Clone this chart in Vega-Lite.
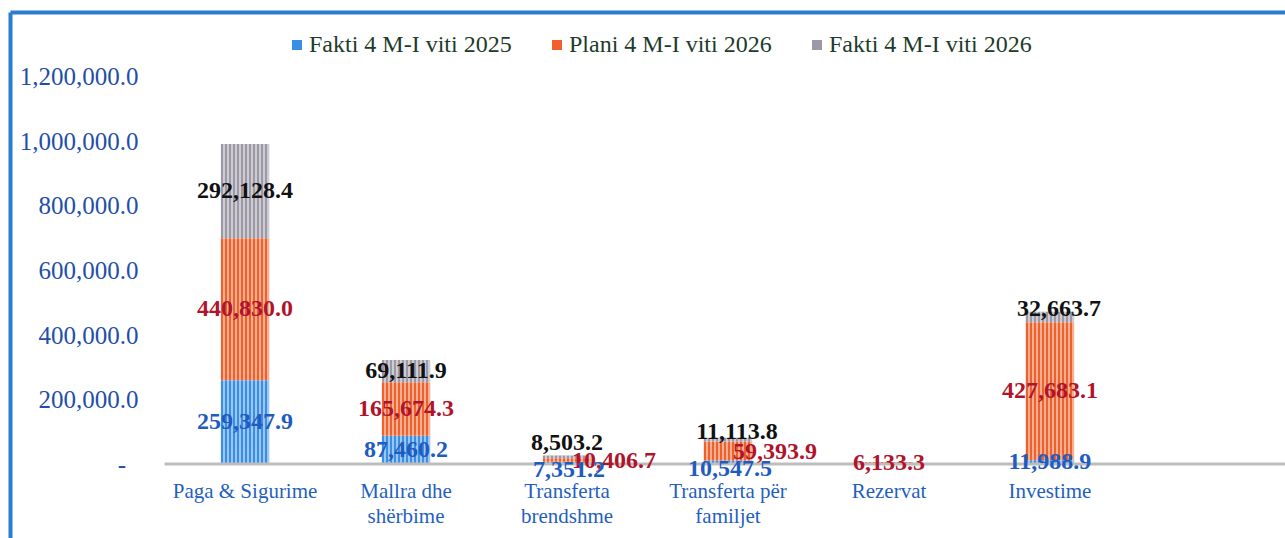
{
  "$schema": "https://vega.github.io/schema/vega-lite/v6.json",
  "autosize": {"type": "none"},
  "width": 1275,
  "height": 526,
  "padding": {"left": 10, "top": 12, "right": 0, "bottom": 0},
  "background": "white",
  "config": {"view": {"stroke": null}, "font": "Liberation Serif"},
  "data": {
    "values": [
      {"cat": "Paga & Sigurime", "s": "Fakti 4 M-I viti 2025", "v": 259347.9},
      {"cat": "Paga & Sigurime", "s": "Plani 4 M-I viti 2026", "v": 440830.0},
      {"cat": "Paga & Sigurime", "s": "Fakti 4 M-I viti 2026", "v": 292128.4},
      {"cat": "Mallra dhe shërbime", "s": "Fakti 4 M-I viti 2025", "v": 87460.2},
      {"cat": "Mallra dhe shërbime", "s": "Plani 4 M-I viti 2026", "v": 165674.3},
      {"cat": "Mallra dhe shërbime", "s": "Fakti 4 M-I viti 2026", "v": 69111.9},
      {"cat": "Transferta brendshme", "s": "Fakti 4 M-I viti 2025", "v": 7351.2},
      {"cat": "Transferta brendshme", "s": "Plani 4 M-I viti 2026", "v": 10406.7},
      {"cat": "Transferta brendshme", "s": "Fakti 4 M-I viti 2026", "v": 8503.2},
      {"cat": "Transferta për familjet", "s": "Fakti 4 M-I viti 2025", "v": 10547.5},
      {"cat": "Transferta për familjet", "s": "Plani 4 M-I viti 2026", "v": 59393.9},
      {"cat": "Transferta për familjet", "s": "Fakti 4 M-I viti 2026", "v": 11113.8},
      {"cat": "Rezervat", "s": "Plani 4 M-I viti 2026", "v": 6133.3},
      {"cat": "Investime", "s": "Fakti 4 M-I viti 2025", "v": 11988.9},
      {"cat": "Investime", "s": "Plani 4 M-I viti 2026", "v": 427683.1},
      {"cat": "Investime", "s": "Fakti 4 M-I viti 2026", "v": 32663.7}
    ]
  },
  "transform": [{"stack": "v", "groupby": ["cat"], "as": ["v0", "v1"]}],
  "layer": [
    {
      "mark": {"type": "bar", "width": {"band": 0.3}},
      "encoding": {
        "x": {
          "field": "cat", "type": "nominal",
          "scale": {"domain": ["Paga & Sigurime", "Mallra dhe shërbime", "Transferta brendshme", "Transferta për familjet", "Rezervat", "Investime"], "paddingInner": 0, "paddingOuter": 0.96},
          "axis": {
            "orient": "bottom", "offset": -60, "domain": false, "ticks": false, "grid": false,
            "labelPadding": 2, "labelAngle": 0, "labelFont": "Liberation Serif", "labelFontSize": 21,
            "labelColor": "#1f5fbf", "labelLineHeight": 25, "labelBaseline": "top", "labelLimit": 0, "title": null,
            "labelExpr": "datum.label == 'Mallra dhe shërbime' ? ['Mallra dhe', 'shërbime'] : datum.label == 'Transferta brendshme' ? ['Transferta', 'brendshme'] : datum.label == 'Transferta për familjet' ? ['Transferta për', 'familjet'] : datum.label"
          }
        },
        "y": {
          "field": "v0", "type": "quantitative",
          "scale": {"domain": [-229457, 1401550], "nice": false, "zero": false},
          "axis": {
            "orient": "left", "offset": -140, "values": [0, 200000, 400000, 600000, 800000, 1000000, 1200000],
            "domain": false, "ticks": false, "grid": false, "labelPadding": 12, "labelOverlap": false, "labelFlush": false,
            "labelFont": "Liberation Serif", "labelFontSize": 25, "labelColor": "#1f4fa8", "title": null,
            "labelExpr": "datum.value == 0 ? '-\u00a0\u00a0\u200b' : format(datum.value, ',.1f')"
          }
        },
        "y2": {"field": "v1"},
        "color": {
          "field": "s", "type": "nominal",
          "scale": {"domain": ["Fakti 4 M-I viti 2025", "Plani 4 M-I viti 2026", "Fakti 4 M-I viti 2026"], "range": ["#3b8ee6", "#f0602a", "#9c98a6"]},
          "legend": {
            "orient": "none", "legendX": 275, "legendY": 21, "direction": "horizontal", "title": null,
            "symbolType": "square", "symbolSize": 100, "symbolStrokeWidth": 0, "labelFont": "Liberation Serif",
            "labelFontSize": 24, "labelColor": "#1d3b2a", "columnPadding": 33, "labelOffset": 0, "labelLimit": 0, "padding": 0
          }
        }
      }
    },
    {
      "mark": {
        "type": "bar", "strokeWidth": 0, "width": {"band": 0.3},
        "fill": {
          "gradient": "linear", "x1": 0, "y1": 0, "x2": 1, "y2": 0,
          "stops": [
            {"offset": 0, "color": "rgba(255,255,255,0)"}, {"offset": 0.0458, "color": "rgba(255,255,255,0)"}, {"offset": 0.0458, "color": "rgba(255,255,255,0.5)"}, {"offset": 0.0833, "color": "rgba(255,255,255,0.5)"},
            {"offset": 0.0833, "color": "rgba(255,255,255,0)"}, {"offset": 0.1292, "color": "rgba(255,255,255,0)"}, {"offset": 0.1292, "color": "rgba(255,255,255,0.5)"}, {"offset": 0.1667, "color": "rgba(255,255,255,0.5)"},
            {"offset": 0.1667, "color": "rgba(255,255,255,0)"}, {"offset": 0.2125, "color": "rgba(255,255,255,0)"}, {"offset": 0.2125, "color": "rgba(255,255,255,0.5)"}, {"offset": 0.25, "color": "rgba(255,255,255,0.5)"},
            {"offset": 0.25, "color": "rgba(255,255,255,0)"}, {"offset": 0.2958, "color": "rgba(255,255,255,0)"}, {"offset": 0.2958, "color": "rgba(255,255,255,0.5)"}, {"offset": 0.3333, "color": "rgba(255,255,255,0.5)"},
            {"offset": 0.3333, "color": "rgba(255,255,255,0)"}, {"offset": 0.3792, "color": "rgba(255,255,255,0)"}, {"offset": 0.3792, "color": "rgba(255,255,255,0.5)"}, {"offset": 0.4167, "color": "rgba(255,255,255,0.5)"},
            {"offset": 0.4167, "color": "rgba(255,255,255,0)"}, {"offset": 0.4625, "color": "rgba(255,255,255,0)"}, {"offset": 0.4625, "color": "rgba(255,255,255,0.5)"}, {"offset": 0.5, "color": "rgba(255,255,255,0.5)"},
            {"offset": 0.5, "color": "rgba(255,255,255,0)"}, {"offset": 0.5458, "color": "rgba(255,255,255,0)"}, {"offset": 0.5458, "color": "rgba(255,255,255,0.5)"}, {"offset": 0.5833, "color": "rgba(255,255,255,0.5)"},
            {"offset": 0.5833, "color": "rgba(255,255,255,0)"}, {"offset": 0.6292, "color": "rgba(255,255,255,0)"}, {"offset": 0.6292, "color": "rgba(255,255,255,0.5)"}, {"offset": 0.6667, "color": "rgba(255,255,255,0.5)"},
            {"offset": 0.6667, "color": "rgba(255,255,255,0)"}, {"offset": 0.7125, "color": "rgba(255,255,255,0)"}, {"offset": 0.7125, "color": "rgba(255,255,255,0.5)"}, {"offset": 0.75, "color": "rgba(255,255,255,0.5)"},
            {"offset": 0.75, "color": "rgba(255,255,255,0)"}, {"offset": 0.7958, "color": "rgba(255,255,255,0)"}, {"offset": 0.7958, "color": "rgba(255,255,255,0.5)"}, {"offset": 0.8333, "color": "rgba(255,255,255,0.5)"},
            {"offset": 0.8333, "color": "rgba(255,255,255,0)"}, {"offset": 0.8792, "color": "rgba(255,255,255,0)"}, {"offset": 0.8792, "color": "rgba(255,255,255,0.5)"}, {"offset": 0.9167, "color": "rgba(255,255,255,0.5)"},
            {"offset": 0.9167, "color": "rgba(255,255,255,0)"}, {"offset": 0.9625, "color": "rgba(255,255,255,0)"}, {"offset": 0.9625, "color": "rgba(255,255,255,0.5)"}, {"offset": 1, "color": "rgba(255,255,255,0.5)"}
          ]
        }
      },
      "encoding": {
        "x": {"field": "cat", "type": "nominal", "scale": {"domain": ["Paga & Sigurime", "Mallra dhe shërbime", "Transferta brendshme", "Transferta për familjet", "Rezervat", "Investime"], "paddingInner": 0, "paddingOuter": 0.96}, "axis": null},
        "y": {"field": "v0", "type": "quantitative", "scale": {"domain": [-229457, 1401550], "nice": false, "zero": false}, "axis": null},
        "y2": {"field": "v1"}
      }
    },
    {
      "transform": [{"filter": "datum.cat == 'Paga & Sigurime' && datum.s == 'Fakti 4 M-I viti 2025'"}],
      "mark": {"type": "rule", "color": "#bdbdbd", "strokeWidth": 3},
      "encoding": {
        "x": {
          "field": "cat", "type": "nominal", "bandPosition": 0,
          "scale": {"domain": ["Paga & Sigurime", "Mallra dhe shërbime", "Transferta brendshme", "Transferta për familjet", "Rezervat", "Investime"], "paddingInner": 0, "paddingOuter": 0.96},
          "axis": {"orient": "top", "domain": true, "domainColor": "#2b7bd3", "domainWidth": 4, "labels": false, "ticks": false, "grid": false, "title": null}
        },
        "x2": {"value": "width"},
        "y": {
          "datum": 0, "type": "quantitative",
          "scale": {"domain": [-229457, 1401550], "nice": false, "zero": false},
          "axis": {"orient": "left", "domain": true, "domainColor": "#2b7bd3", "domainWidth": 4, "labels": false, "ticks": false, "grid": false, "title": null}
        }
      }
    },
    {
      "transform": [
        {"fold": ["v0", "v1"], "as": ["k", "pos"]},
        {"aggregate": [{"op": "mean", "field": "pos", "as": "mid"}, {"op": "max", "field": "v", "as": "v"}], "groupby": ["cat", "s"]}
      ],
      "layer": [
        {
          "transform": [{"filter": "!(datum.cat == 'Transferta brendshme' || datum.cat == 'Transferta për familjet' || (datum.cat == 'Investime' && datum.s == 'Fakti 4 M-I viti 2026'))"}],
          "mark": {"type": "text", "font": "Liberation Serif", "fontWeight": "bold", "fontSize": 24, "baseline": "middle", "align": "center"},
          "encoding": {
            "x": {"field": "cat", "type": "nominal", "scale": {"domain": ["Paga & Sigurime", "Mallra dhe shërbime", "Transferta brendshme", "Transferta për familjet", "Rezervat", "Investime"], "paddingInner": 0, "paddingOuter": 0.96}, "axis": null},
            "y": {"field": "mid", "type": "quantitative", "scale": {"domain": [-229457, 1401550], "nice": false, "zero": false}, "axis": null},
            "text": {"field": "v", "type": "quantitative", "format": ",.1f"},
            "color": {"condition": [{"test": "datum.s == 'Fakti 4 M-I viti 2025'", "value": "#1f5cc0"}, {"test": "datum.s == 'Plani 4 M-I viti 2026'", "value": "#b0142c"}], "value": "#111111"}
          }
        },
        {
          "transform": [{"filter": "datum.cat == 'Transferta brendshme' && datum.s == 'Fakti 4 M-I viti 2026'"}],
          "mark": {"type": "text", "font": "Liberation Serif", "fontWeight": "bold", "fontSize": 24, "baseline": "middle", "align": "center", "dy": -14, "dx": 0},
          "encoding": {
            "x": {"field": "cat", "type": "nominal", "scale": {"domain": ["Paga & Sigurime", "Mallra dhe shërbime", "Transferta brendshme", "Transferta për familjet", "Rezervat", "Investime"], "paddingInner": 0, "paddingOuter": 0.96}, "axis": null},
            "y": {"field": "mid", "type": "quantitative", "scale": {"domain": [-229457, 1401550], "nice": false, "zero": false}, "axis": null},
            "text": {"field": "v", "type": "quantitative", "format": ",.1f"},
            "color": {"value": "#111111"}
          }
        },
        {
          "transform": [{"filter": "(datum.cat == 'Transferta për familjet' || datum.cat == 'Investime') && datum.s == 'Fakti 4 M-I viti 2026'"}],
          "mark": {"type": "text", "font": "Liberation Serif", "fontWeight": "bold", "fontSize": 24, "baseline": "middle", "align": "center", "dy": -8, "dx": 9},
          "encoding": {
            "x": {"field": "cat", "type": "nominal", "scale": {"domain": ["Paga & Sigurime", "Mallra dhe shërbime", "Transferta brendshme", "Transferta për familjet", "Rezervat", "Investime"], "paddingInner": 0, "paddingOuter": 0.96}, "axis": null},
            "y": {"field": "mid", "type": "quantitative", "scale": {"domain": [-229457, 1401550], "nice": false, "zero": false}, "axis": null},
            "text": {"field": "v", "type": "quantitative", "format": ",.1f"},
            "color": {"value": "#111111"}
          }
        },
        {
          "transform": [{"filter": "(datum.cat == 'Transferta brendshme' || datum.cat == 'Transferta për familjet') && datum.s == 'Plani 4 M-I viti 2026'"}],
          "mark": {"type": "text", "font": "Liberation Serif", "fontWeight": "bold", "fontSize": 24, "baseline": "middle", "align": "center", "dy": 1, "dx": 47},
          "encoding": {
            "x": {"field": "cat", "type": "nominal", "scale": {"domain": ["Paga & Sigurime", "Mallra dhe shërbime", "Transferta brendshme", "Transferta për familjet", "Rezervat", "Investime"], "paddingInner": 0, "paddingOuter": 0.96}, "axis": null},
            "y": {"field": "mid", "type": "quantitative", "scale": {"domain": [-229457, 1401550], "nice": false, "zero": false}, "axis": null},
            "text": {"field": "v", "type": "quantitative", "format": ",.1f"},
            "color": {"value": "#b0142c"}
          }
        },
        {
          "transform": [{"filter": "(datum.cat == 'Transferta brendshme' || datum.cat == 'Transferta për familjet') && datum.s == 'Fakti 4 M-I viti 2025'"}],
          "mark": {"type": "text", "font": "Liberation Serif", "fontWeight": "bold", "fontSize": 24, "baseline": "middle", "align": "center", "dy": 7, "dx": 2},
          "encoding": {
            "x": {"field": "cat", "type": "nominal", "scale": {"domain": ["Paga & Sigurime", "Mallra dhe shërbime", "Transferta brendshme", "Transferta për familjet", "Rezervat", "Investime"], "paddingInner": 0, "paddingOuter": 0.96}, "axis": null},
            "y": {"field": "mid", "type": "quantitative", "scale": {"domain": [-229457, 1401550], "nice": false, "zero": false}, "axis": null},
            "text": {"field": "v", "type": "quantitative", "format": ",.1f"},
            "color": {"value": "#1f5cc0"}
          }
        }
      ]
    }
  ],
  "resolve": {"axis": {"x": "independent", "y": "independent"}}
}
